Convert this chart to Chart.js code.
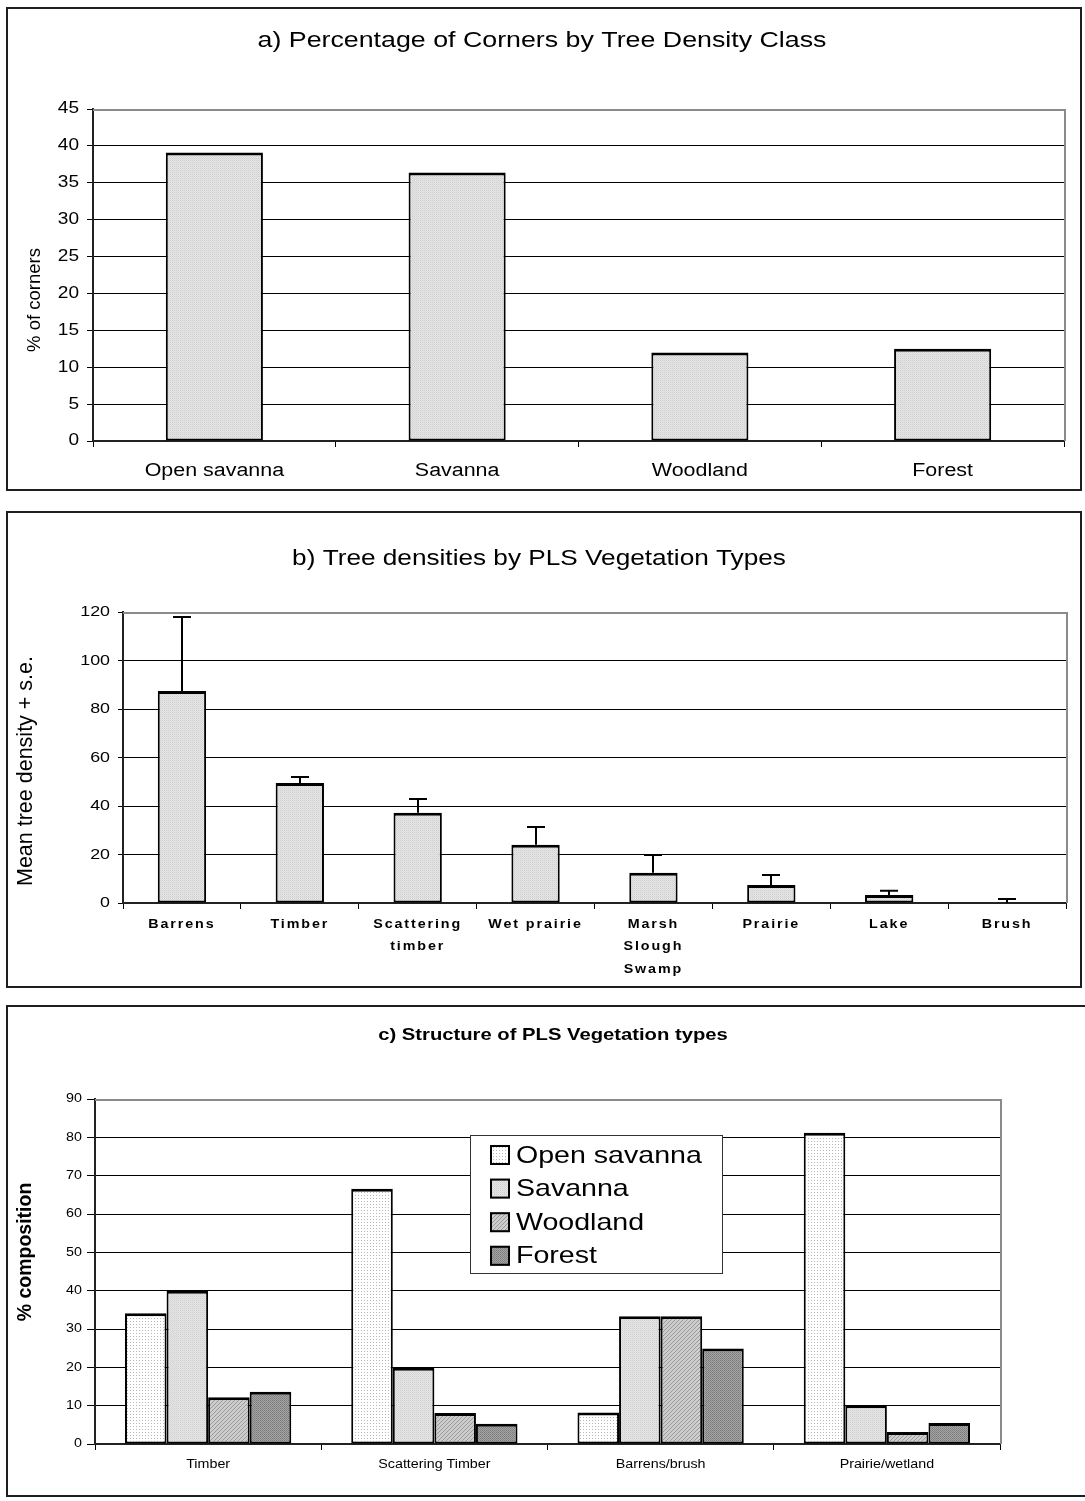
<!DOCTYPE html>
<html>
<head>
<meta charset="utf-8">
<title>Tree density and PLS vegetation types</title>
<script src="https://cdn.jsdelivr.net/npm/chart.js@4/dist/chart.umd.min.js"></script>
<style>
  html, body { margin: 0; padding: 0; background: #fff; }
  body { position: relative; width: 1085px; height: 1501px; overflow: hidden; }
  canvas { position: absolute; left: 0; }
  .frame { position: absolute; box-sizing: border-box; border: 2px solid #1e1e1e; pointer-events: none; }
</style>
</head>
<body>
<div class="frame" style="left:6px;top:7px;width:1076px;height:484px"></div>
<div class="frame" style="left:6px;top:511px;width:1076px;height:477px"></div>
<div class="frame" style="left:6px;top:1005px;width:1100px;height:492px"></div>
<canvas id="chartA" width="1085" height="500" style="top:0"></canvas>
<canvas id="chartB" width="1085" height="490" style="top:500px"></canvas>
<canvas id="chartC" width="1085" height="511" style="top:990px"></canvas>
<script>
// ---- a) corners by tree density class ----
const densityClasses = ['Open savanna', 'Savanna', 'Woodland', 'Forest'];
const cornerPercent = [39.1, 36.4, 12.0, 12.5];
const ticksA = [0, 5, 10, 15, 20, 25, 30, 35, 40, 45];

// ---- b) tree density by PLS vegetation type ----
const plsTypes = ['Barrens', 'Timber', ['Scattering', 'timber'], 'Wet prairie',
                  ['Marsh', 'Slough', 'Swamp'], 'Prairie', 'Lake', 'Brush'];
const meanDensity = [87.4, 49.5, 37.2, 24.0, 12.5, 7.4, 3.3, 0];
const densitySE = [30.5, 2.5, 5.7, 7.3, 7.3, 4.1, 1.8, 1.6];
const ticksB = [0, 20, 40, 60, 80, 100, 120];

// ---- c) structure of PLS vegetation types ----
const structureTypes = ['Timber', 'Scattering Timber', 'Barrens/brush', 'Prairie/wetland'];
const openSavannaPct = [34.1, 66.6, 8.2, 81.2];
const savannaPct = [40.0, 19.9, 33.3, 10.1];
const woodlandPct = [12.2, 8.1, 33.3, 3.1];
const forestPct = [13.6, 5.3, 24.9, 5.5];
const ticksC = [0, 10, 20, 30, 40, 50, 60, 70, 80, 90];

const FAMILY = 'Arial, "Liberation Sans", sans-serif';

// Horizontal lettering in this figure is set widened along its baseline;
// stretch each canvas glyph run about its anchor (rotated titles excepted).
const WIDEN = 1.19;
let widenLettering = true;
(function () {
  const proto = CanvasRenderingContext2D.prototype;
  const baseFill = proto.fillText;
  proto.fillText = function (text, x, y, maxWidth) {
    const k = widenLettering ? WIDEN : 1;
    this.save();
    this.translate(x, y);
    this.scale(k, 1);
    if (maxWidth === undefined) baseFill.call(this, text, 0, 0);
    else baseFill.call(this, text, 0, 0, maxWidth);
    this.restore();
  };
})();

// Category axis whose labels are drawn letter-spaced.
const BaseCategory = Chart.registry.getScale('category');
class SpacedCategoryScale extends BaseCategory {
  drawLabels(area) {
    const ctx = this.ctx;
    ctx.save();
    ctx.letterSpacing = '1.6px';
    super.drawLabels(area);
    ctx.restore();
  }
}
SpacedCategoryScale.id = 'spacedCategory';
SpacedCategoryScale.defaults = BaseCategory.defaults;
Chart.register(SpacedCategoryScale);

// Small repeating grey textures for bar fills.
function texture(ctx, rows) {
  const c = document.createElement('canvas');
  c.width = rows[0].length; c.height = rows.length;
  const g = c.getContext('2d');
  rows.forEach((row, y) => row.forEach((col, x) => { g.fillStyle = col; g.fillRect(x, y, 1, 1); }));
  return ctx.createPattern(c, 'repeat');
}
function lightStipple(ctx) {
  return texture(ctx, [['#cfcfcf', '#e6e6e6'], ['#e6e6e6', '#dadada']]);
}
function sparseDots(ctx) {
  const w = '#ffffff', d = '#b8b8b8';
  return texture(ctx, [[w, w, w], [w, d, w], [w, w, w]]);
}
function diagonalHatch(ctx) {
  const rows = [];
  for (let y = 0; y < 4; y++) {
    const r = [];
    for (let x = 0; x < 4; x++) r.push((x + y) % 4 === 0 ? '#9a9a9a' : '#cdcdcd');
    rows.push(r);
  }
  return texture(ctx, rows);
}
function darkStipple(ctx) {
  return texture(ctx, [['#7c7c7c', '#a4a4a4'], ['#a4a4a4', '#868686']]);
}

// Grey top and right edges of the plotting area.
const plotFramePlugin = {
  id: 'plotFrame',
  beforeDatasetsDraw(chart) {
    const { ctx, chartArea: a } = chart;
    ctx.save();
    ctx.strokeStyle = '#8a8a8a';
    ctx.lineWidth = 2;
    ctx.beginPath();
    ctx.moveTo(a.left, a.top + 1);
    ctx.lineTo(a.right + 1, a.top + 1);
    ctx.lineTo(a.right + 1, a.bottom);
    ctx.stroke();
    ctx.restore();
  }
};

// Free-standing captions: chart headings and rotated axis titles.
const captionPlugin = {
  id: 'captions',
  afterDraw(chart, args, opts) {
    const ctx = chart.ctx;
    (opts.items || []).forEach(it => {
      ctx.save();
      ctx.font = it.font;
      ctx.fillStyle = '#000';
      ctx.textAlign = 'center';
      ctx.textBaseline = 'middle';
      ctx.translate(it.x, it.y);
      if (it.rotate) ctx.rotate(it.rotate);
      widenLettering = !it.rotate;
      ctx.fillText(it.text, 0, 0);
      widenLettering = true;
      ctx.restore();
    });
  }
};

// Upper standard-error whiskers on panel b bars.
const errorBarPlugin = {
  id: 'errorBars',
  afterDatasetsDraw(chart, args, opts) {
    const ctx = chart.ctx;
    const y = chart.scales.y;
    const ds = chart.data.datasets[0];
    const meta = chart.getDatasetMeta(0);
    ctx.save();
    ctx.strokeStyle = '#000';
    ctx.lineWidth = 2;
    meta.data.forEach((bar, i) => {
      const base = y.getPixelForValue(ds.data[i]);
      const top = y.getPixelForValue(ds.data[i] + ds.errors[i]);
      const x = Math.round(bar.x);
      ctx.beginPath();
      ctx.moveTo(x, base);
      ctx.lineTo(x, top);
      ctx.moveTo(x - opts.cap / 2, top);
      ctx.lineTo(x + opts.cap / 2, top);
      ctx.stroke();
    });
    ctx.restore();
  }
};

// Boxed legend placed inside the plotting area of panel c.
const boxLegendPlugin = {
  id: 'boxLegend',
  afterDraw(chart, args, o) {
    const ctx = chart.ctx;
    ctx.save();
    ctx.fillStyle = '#fff';
    ctx.fillRect(o.x, o.y, o.w, o.h);
    ctx.strokeStyle = '#333';
    ctx.lineWidth = 1;
    ctx.strokeRect(o.x + 0.5, o.y + 0.5, o.w - 1, o.h - 1);
    ctx.font = o.font;
    ctx.textAlign = 'left';
    ctx.textBaseline = 'middle';
    chart.data.datasets.forEach((ds, i) => {
      const cy = o.firstRow + i * o.rowGap;
      ctx.fillStyle = ds.backgroundColor;
      ctx.fillRect(o.swatchX, cy - o.swatch / 2, o.swatch, o.swatch);
      ctx.strokeStyle = '#000';
      ctx.lineWidth = 2;
      ctx.strokeRect(o.swatchX + 1, cy - o.swatch / 2 + 1, o.swatch - 2, o.swatch - 2);
      ctx.fillStyle = '#000';
      ctx.fillText(ds.label, o.textX, cy + 1);
    });
    ctx.restore();
  }
};

const BAR_EDGE = { top: 3, right: 2, bottom: 2, left: 2 };

// Shared axis/layout options for a plotting box given in canvas pixels.
function panelOptions(box, yTicks, yFont, yTick, xTick, xFont, extraPlugins) {
  return {
    responsive: false,
    animation: false,
    devicePixelRatio: 1,
    layout: { padding: { left: 0, top: box.top, right: box.width - box.right, bottom: 0 } },
    plugins: Object.assign({
      legend: { display: false },
      tooltip: { enabled: false },
      title: { display: false }
    }, extraPlugins),
    scales: {
      x: {
        type: xTick.type || 'category',
        offset: true,
        afterFit: s => { s.height = box.height - box.bottom; },
        grid: { display: true, offset: true, drawOnChartArea: false, drawTicks: true,
                tickLength: 6, color: '#000', tickColor: '#000', lineWidth: 1 },
        border: { display: true, color: '#222', width: 2 },
        ticks: { color: '#000', font: xFont, padding: xTick.padding, autoSkip: false, maxRotation: 0, minRotation: 0 }
      },
      y: {
        min: yTicks[0],
        max: yTicks[yTicks.length - 1],
        afterFit: s => { s.width = box.left; },
        afterBuildTicks: s => { s.ticks = yTicks.map(v => ({ value: v })); },
        grid: {
          color: c => (c.tick && c.tick.value === yTicks[yTicks.length - 1]) ? 'rgba(0,0,0,0)' : '#000',
          tickColor: '#000', lineWidth: 1, drawTicks: true, tickLength: yTick.length
        },
        border: { display: true, color: '#222', width: 2 },
        ticks: { color: '#000', font: yFont, padding: yTick.padding }
      }
    }
  };
}

// ---------- panel a ----------
(function () {
  const canvas = document.getElementById('chartA');
  const ctx = canvas.getContext('2d');
  const box = { left: 93, top: 109, right: 1064, bottom: 441, width: 1085, height: 500 };
  new Chart(ctx, {
    type: 'bar',
    data: {
      labels: densityClasses,
      datasets: [{
        label: '% of corners',
        data: cornerPercent,
        backgroundColor: lightStipple(ctx),
        borderColor: '#000',
        borderWidth: BAR_EDGE,
        borderSkipped: false,
        categoryPercentage: 1,
        barPercentage: 0.4
      }]
    },
    options: panelOptions(box, ticksA,
      { family: FAMILY, size: 16 }, { length: 6, padding: 8 },
      { padding: 13 }, { family: FAMILY, size: 18 },
      { captions: { items: [
        { text: 'a) Percentage of Corners by Tree Density Class', x: 542, y: 41, font: '22.5px ' + FAMILY },
        { text: '% of corners', x: 35, y: 300, rotate: -Math.PI / 2, font: '18.5px ' + FAMILY }
      ] } }),
    plugins: [plotFramePlugin, captionPlugin]
  });
})();

// ---------- panel b ----------
(function () {
  const canvas = document.getElementById('chartB');
  const ctx = canvas.getContext('2d');
  const box = { left: 123, top: 112, right: 1066, bottom: 403, width: 1085, height: 490 };
  new Chart(ctx, {
    type: 'bar',
    data: {
      labels: plsTypes,
      datasets: [{
        label: 'Mean tree density',
        data: meanDensity,
        errors: densitySE,
        backgroundColor: lightStipple(ctx),
        borderColor: '#000',
        borderWidth: BAR_EDGE,
        borderSkipped: false,
        categoryPercentage: 1,
        barPercentage: 0.41
      }]
    },
    options: panelOptions(box, ticksB,
      { family: FAMILY, size: 15 }, { length: 5, padding: 8 },
      { type: 'spacedCategory', padding: 5 }, { family: FAMILY, size: 12, weight: 'bold', lineHeight: 1.84 },
      {
        errorBars: { cap: 18 },
        captions: { items: [
          { text: 'b) Tree densities by PLS Vegetation Types', x: 539, y: 59, font: '22px ' + FAMILY },
          { text: 'Mean tree density + s.e.', x: 26, y: 271, rotate: -Math.PI / 2, font: '21.5px ' + FAMILY }
        ] }
      }),
    plugins: [plotFramePlugin, errorBarPlugin, captionPlugin]
  });
})();

// ---------- panel c ----------
(function () {
  const canvas = document.getElementById('chartC');
  const ctx = canvas.getContext('2d');
  const box = { left: 95, top: 109, right: 1000, bottom: 454, width: 1085, height: 511 };
  const common = { borderColor: '#000', borderWidth: BAR_EDGE, borderSkipped: false,
                   categoryPercentage: 0.735, barPercentage: 1 };
  new Chart(ctx, {
    type: 'bar',
    data: {
      labels: structureTypes,
      datasets: [
        Object.assign({ label: 'Open savanna', data: openSavannaPct, backgroundColor: sparseDots(ctx) }, common),
        Object.assign({ label: 'Savanna', data: savannaPct, backgroundColor: lightStipple(ctx) }, common),
        Object.assign({ label: 'Woodland', data: woodlandPct, backgroundColor: diagonalHatch(ctx) }, common),
        Object.assign({ label: 'Forest', data: forestPct, backgroundColor: darkStipple(ctx) }, common)
      ]
    },
    options: panelOptions(box, ticksC,
      { family: FAMILY, size: 12 }, { length: 8, padding: 5 },
      { padding: 7 }, { family: FAMILY, size: 12 },
      {
        boxLegend: { x: 470, y: 145, w: 253, h: 139, swatchX: 490, swatch: 20, textX: 516,
                     firstRow: 165, rowGap: 33.6, font: '24px ' + FAMILY },
        captions: { items: [
          { text: 'c) Structure of PLS Vegetation types', x: 553, y: 45, font: 'bold 17px ' + FAMILY },
          { text: '% composition', x: 26, y: 262, rotate: -Math.PI / 2, font: 'bold 19.5px ' + FAMILY }
        ] }
      }),
    plugins: [plotFramePlugin, boxLegendPlugin, captionPlugin]
  });
})();
</script>
</body>
</html>
